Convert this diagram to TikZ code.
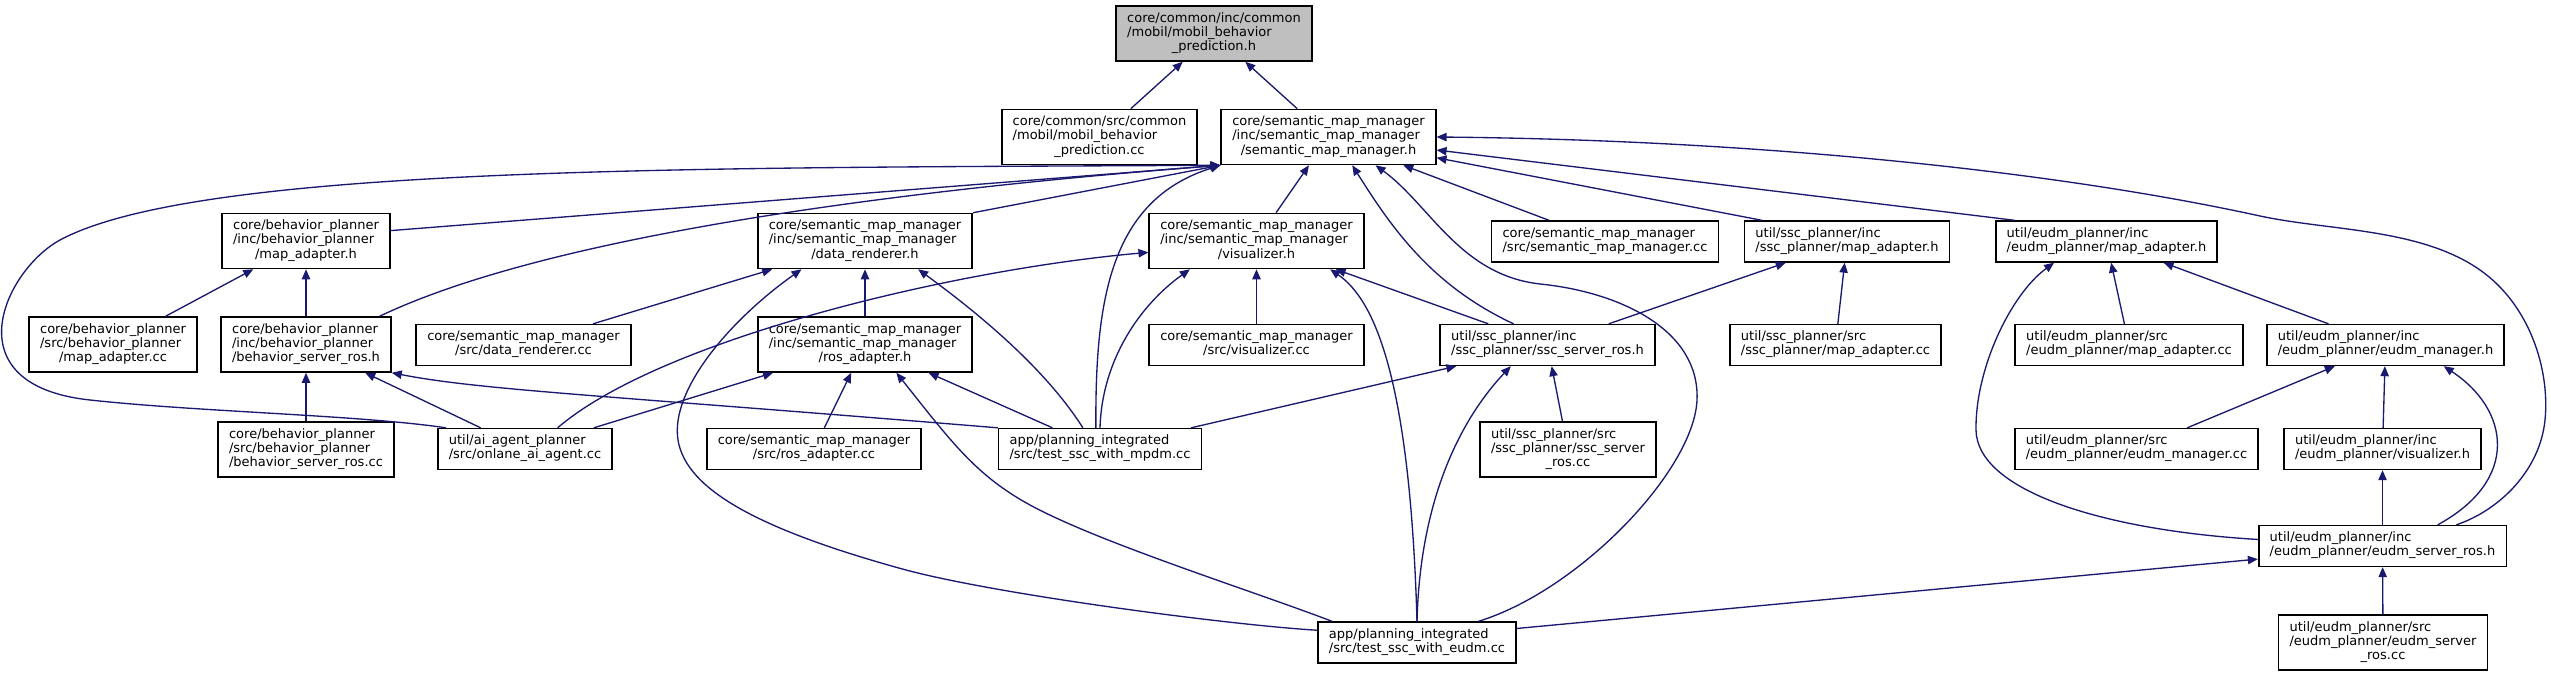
\documentclass[tikz,border=0pt]{standalone}
\usepackage{fontspec}
\setmainfont{DejaVu Sans}
\usepackage{tikz}
\usetikzlibrary{arrows.meta}
\usepackage{xcolor}
\definecolor{linkblue}{HTML}{191970}
\definecolor{rootgrey}{HTML}{BFBFBF}
% file label: every line left, the last one centred
\newcommand{\flab}[2]{\begin{tabular}{@{}l@{}}#1\\\multicolumn{1}{@{}c@{}}{#2}\end{tabular}}

\begin{document}
\begin{tikzpicture}[x=0.03cm, y=-0.03cm,
  file/.style={draw=black, line width=0.05cm, fill=white, inner xsep=0.33cm, inner ysep=0.185cm,
    font=\fontsize{11.1}{12.1}\selectfont},
  inc/.style={draw=linkblue, line width=0.04cm, {Triangle[length=0.3cm,width=0.25cm]}-}]
  \path[use as bounding box, fill=white] (0,0) rectangle (2551,676);

  \node[file, fill=rootgrey] (mobilh) at (1214,33.5) {\flab{core/common/inc/common\\/mobil/mobil\_behavior}{\_prediction.h}};
  \node[file] (mobilcc) at (1099.5,137) {\flab{core/common/src/common\\/mobil/mobil\_behavior}{\_prediction.cc}};
  \node[file] (smmh) at (1328.5,137) {\flab{core/semantic\_map\_manager\\/inc/semantic\_map\_manager}{/semantic\_map\_manager.h}};

  \node[file] (bpmah) at (306,241) {\flab{core/behavior\_planner\\/inc/behavior\_planner}{/map\_adapter.h}};
  \node[file] (drh) at (865,241) {\flab{core/semantic\_map\_manager\\/inc/semantic\_map\_manager}{/data\_renderer.h}};
  \node[file] (vish) at (1256.5,241) {\flab{core/semantic\_map\_manager\\/inc/semantic\_map\_manager}{/visualizer.h}};
  \node[file] (smmcc) at (1605,241.5) {\flab{core/semantic\_map\_manager}{/src/semantic\_map\_manager.cc}};
  \node[file] (sscmah) at (1847,241.5) {\flab{util/ssc\_planner/inc}{/ssc\_planner/map\_adapter.h}};
  \node[file] (eudmmah) at (2106.5,241.5) {\flab{util/eudm\_planner/inc}{/eudm\_planner/map\_adapter.h}};

  \node[file] (bpmacc) at (113,344.5) {\flab{core/behavior\_planner\\/src/behavior\_planner}{/map\_adapter.cc}};
  \node[file] (bpsrh) at (306,344.5) {\flab{core/behavior\_planner\\/inc/behavior\_planner}{/behavior\_server\_ros.h}};
  \node[file] (drcc) at (523.5,345) {\flab{core/semantic\_map\_manager}{/src/data\_renderer.cc}};
  \node[file] (rah) at (865,344.5) {\flab{core/semantic\_map\_manager\\/inc/semantic\_map\_manager}{/ros\_adapter.h}};
  \node[file] (viscc) at (1256.5,345) {\flab{core/semantic\_map\_manager}{/src/visualizer.cc}};
  \node[file] (sscsrh) at (1547.5,345) {\flab{util/ssc\_planner/inc}{/ssc\_planner/ssc\_server\_ros.h}};
  \node[file] (sscmacc) at (1835.5,345) {\flab{util/ssc\_planner/src}{/ssc\_planner/map\_adapter.cc}};
  \node[file] (eudmmacc) at (2129,345) {\flab{util/eudm\_planner/src}{/eudm\_planner/map\_adapter.cc}};
  \node[file] (eudmmgrh) at (2385.5,345) {\flab{util/eudm\_planner/inc}{/eudm\_planner/eudm\_manager.h}};

  \node[file] (bpsrcc) at (306,449.5) {\flab{core/behavior\_planner\\/src/behavior\_planner}{/behavior\_server\_ros.cc}};
  \node[file] (onlanecc) at (525,449) {\flab{util/ai\_agent\_planner}{/src/onlane\_ai\_agent.cc}};
  \node[file] (racc) at (814,449) {\flab{core/semantic\_map\_manager}{/src/ros\_adapter.cc}};
  \node[file] (mpdmcc) at (1100,449) {\flab{app/planning\_integrated}{/src/test\_ssc\_with\_mpdm.cc}};
  \node[file] (sscsrcc) at (1568,449.5) {\flab{util/ssc\_planner/src\\/ssc\_planner/ssc\_server}{\_ros.cc}};
  \node[file] (eudmmgrcc) at (2136.5,449) {\flab{util/eudm\_planner/src}{/eudm\_planner/eudm\_manager.cc}};
  \node[file] (eudmvish) at (2382.5,449) {\flab{util/eudm\_planner/inc}{/eudm\_planner/visualizer.h}};

  \node[file] (eudmsrh) at (2382.5,546) {\flab{util/eudm\_planner/inc}{/eudm\_planner/eudm\_server\_ros.h}};
  \node[file] (eudmcc) at (1417,642.5) {\flab{app/planning\_integrated}{/src/test\_ssc\_with\_eudm.cc}};
  \node[file] (eudmsrcc) at (2383,642.5) {\flab{util/eudm\_planner/src\\/eudm\_planner/eudm\_server}{\_ros.cc}};

  % mobil_behavior_prediction.h
  \draw[inc] (mobilh) -- (mobilcc);
  \draw[inc] (mobilh) -- (smmh);
  % semantic_map_manager.h
  \draw[inc] (smmh.south west) -- (bpmah.7);
  \draw[inc] (smmh.south west) .. controls (900,190) and (550,235) .. (bpsrh.21);
  \draw[inc] (smmh.south west) .. controls (700,168) and (200,165) .. (60,240)
    .. controls (5,270) and (-50,385) .. (90,400) .. controls (200,412) and (360,415) .. (onlanecc.165);
  \draw[inc] (smmh.south west) -- (drh.north east);
  \draw[inc] (smmh.south west) .. controls (1110,200) and (1095,300) .. (mpdmcc.101);
  \draw[inc] (smmh) -- (vish);
  \draw[inc] (smmh.310) .. controls (1390,225) and (1430,285) .. (sscsrh.148);
  \draw[inc] (smmh.329) .. controls (1430,205) and (1460,275) .. (1540,284)
    .. controls (1620,292) and (1700,330) .. (1697,400) .. controls (1694,470) and (1580,590) .. (eudmcc.19.5);
  \draw[inc] (smmh) -- (smmcc);
  \draw[inc] (smmh) -- (sscmah.166);
  \draw[inc] (smmh) -- (eudmmah.167);
  \draw[inc] (smmh.east) .. controls (1750,140) and (2050,170) .. (2260,216)
    .. controls (2330,231) and (2420,228) .. (2480,270) .. controls (2530,305) and (2550,370) .. (2545,420)
    .. controls (2540,470) and (2500,510) .. (eudmsrh.16);
  % behavior_planner
  \draw[inc] (bpmah) -- (bpmacc);
  \draw[inc] (bpmah) -- (bpsrh);
  \draw[inc] (bpsrh) -- (bpsrcc);
  \draw[inc] (bpsrh) -- (onlanecc);
  \draw[inc] (bpsrh.south east) .. controls (480,390) and (600,395) .. (mpdmcc.north west);
  % data_renderer.h and ros_adapter.h
  \draw[inc] (drh) -- (drcc);
  \draw[inc] (drh) -- (rah);
  \draw[inc] (drh.-28) .. controls (960,300) and (1040,360) .. (mpdmcc.129);
  \draw[inc] (drh.-156) .. controls (730,320) and (670,390) .. (678,440)
    .. controls (686,490) and (760,530) .. (906,570) .. controls (1000,595) and (1230,625) .. (eudmcc.173);
  \draw[inc] (rah) -- (onlanecc);
  \draw[inc] (rah) -- (racc);
  \draw[inc] (rah) -- (mpdmcc);
  \draw[inc] (rah.-42) .. controls (950,440) and (975,475) .. (1030,505)
    .. controls (1100,543) and (1250,590) .. (eudmcc.166);
  % visualizer.h
  \draw[inc] (vish.186) .. controls (950,270) and (660,340) .. (onlanecc.33);
  \draw[inc] (vish) -- (viscc);
  \draw[inc] (vish.-157) .. controls (1140,305) and (1102,360) .. (mpdmcc.north);
  \draw[inc] (vish.-21) .. controls (1375,300) and (1410,380) .. (eudmcc.north);
  \draw[inc] (vish) -- (sscsrh);
  % ssc_planner
  \draw[inc] (sscmah) -- (sscsrh);
  \draw[inc] (sscmah) -- (sscmacc);
  \draw[inc] (sscsrh) -- (mpdmcc);
  \draw[inc] (sscsrh.-150) .. controls (1460,420) and (1420,500) .. (eudmcc.north);
  \draw[inc] (sscsrh) -- (sscsrcc);
  % eudm_planner
  \draw[inc] (eudmmah) -- (eudmmacc);
  \draw[inc] (eudmmah) -- (eudmmgrh);
  \draw[inc] (eudmmah.-158) .. controls (2010,295) and (1975,370) .. (1976,430)
    .. controls (1977,490) and (2100,530) .. (eudmsrh.177);
  \draw[inc] (eudmmgrh) -- (eudmmgrcc);
  \draw[inc] (eudmmgrh) -- (eudmvish);
  \draw[inc] (eudmmgrh.-20) .. controls (2510,410) and (2520,480) .. (eudmsrh.21);
  \draw[inc] (eudmvish) -- (eudmsrh);
  \draw[inc] (eudmsrh.186) -- (eudmcc.8);
  \draw[inc] (eudmsrh) -- (eudmsrcc);
\end{tikzpicture}
\end{document}
